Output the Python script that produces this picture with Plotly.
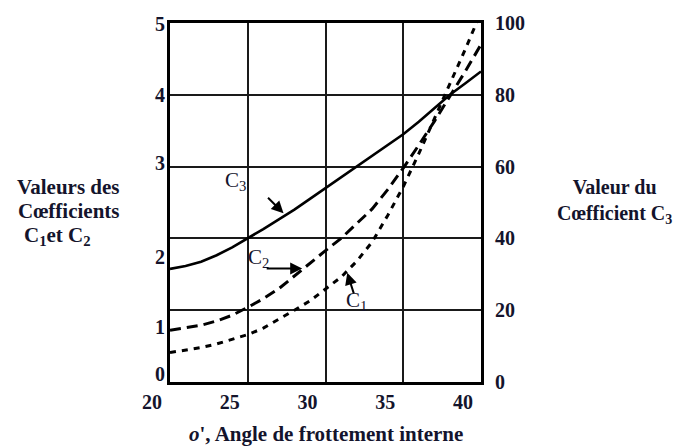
import plotly.graph_objects as go

# Friction angle (degrees)
angle = [20, 21, 22, 23, 24, 25, 26, 27, 28, 29, 30, 31, 32, 33, 34, 35, 36, 37, 38, 39, 40]

# Coefficients C1 and C2 (left axis)
c1 = [0.41, 0.44, 0.48, 0.53, 0.59, 0.66, 0.75, 0.87, 1.00, 1.13, 1.29, 1.46, 1.68, 1.95, 2.32,
      2.72, 3.18, 3.66, 4.15, 4.64, 5.15]
c2 = [0.72, 0.75, 0.79, 0.85, 0.93, 1.04, 1.16, 1.30, 1.48, 1.65, 1.83, 2.00, 2.20, 2.41, 2.68,
      2.98, 3.30, 3.63, 3.98, 4.33, 4.70]

# Coefficient C3 (right axis)
c3 = [31.5, 32.3, 33.5, 35.3, 37.5, 40.0, 42.6, 45.3, 48.0, 51.0, 54.0, 57.0, 60.0, 63.0, 66.0,
      69.0, 72.5, 76.2, 80.0, 83.2, 86.5]

x_ticks = [20, 25, 30, 35, 40]
left_ticks = [0, 1, 2, 3, 4, 5]
right_ticks = [0, 20, 40, 60, 80, 100]

INK = "#14142c"
FONT = "Liberation Serif"

fig = go.Figure()
fig.add_trace(go.Scatter(x=angle, y=c3, yaxis="y2", mode="lines",
                         line=dict(color="black", width=2.6), showlegend=False))
fig.add_trace(go.Scatter(x=angle, y=c2, mode="lines",
                         line=dict(color="black", width=3, dash="11px,6px"), showlegend=False))
fig.add_trace(go.Scatter(x=angle, y=c1, mode="lines",
                         line=dict(color="black", width=3, dash="6px,6px"), showlegend=False))

tickfont = dict(family=FONT, size=20, color=INK, weight="bold")

fig.update_layout(
    width=678, height=447,
    margin=dict(l=170, r=197, t=14, b=65),
    paper_bgcolor="white", plot_bgcolor="white",
    xaxis=dict(range=[20, 40], tickvals=x_ticks, showgrid=True, gridcolor="#1a1a1a", gridwidth=2,
               zeroline=False, showline=True, mirror=True, linecolor="black", linewidth=2.5,
               ticks="", tickfont=tickfont, ticklabelshift=-18, ticklabelstandoff=0),
    yaxis=dict(range=[0, 5], tickvals=left_ticks, showgrid=True, gridcolor="#1a1a1a", gridwidth=2,
               zeroline=False, showline=True, mirror=True, linecolor="black", linewidth=2.5,
               ticks="", showticklabels=False),
    yaxis2=dict(range=[0, 100], tickvals=right_ticks, overlaying="y", side="right",
                showgrid=False, zeroline=False, showline=False, ticks="",
                tickfont=tickfont, ticklabelstandoff=13),
)

# Left-axis labels
left_label_pos = [374, 326, 254, 158, 88, 15]
annotations = []
for v, py in zip(left_ticks, left_label_pos):
    annotations.append(dict(xref="paper", yref="paper", x=0, y=(382 - py) / 368,
                            xanchor="right", yanchor="middle", xshift=-3, showarrow=False,
                            text=str(v), font=tickfont))

def paper(px, py):
    return (px - 170) / 311, (382 - py) / 368

title_font = dict(family=FONT, size=21, color=INK, weight="bold")
for txt, px, py in [("Valeurs des", 68, 182), ("Cœfficients", 68, 207),
                    ("C<sub>1</sub>et C<sub>2</sub>", 57, 232),
                    ("<i>o</i>', Angle de frottement interne", 326, 435)]:
    xp, yp = paper(px, py)
    annotations.append(dict(xref="paper", yref="paper", x=xp, y=yp, xanchor="center",
                            yanchor="middle", showarrow=False, text=txt, font=title_font))

# Right-axis title
xp, yp = paper(614, 197)
annotations.append(dict(xref="paper", yref="paper", x=xp, y=yp, xanchor="center",
                        yanchor="middle", align="center", showarrow=False,
                        text="Valeur du<br>Cœfficient C<sub>3</sub>",
                        font=dict(family=FONT, size=20, color=INK, weight="bold")))

# Curve labels and pointers
label_font = dict(family=FONT, size=21, color=INK)
annotations += [
    dict(x=24.2, y=2.80, xref="x", yref="y", text="C<sub>3</sub>", showarrow=False, font=label_font),
    dict(x=25.7, y=1.73, xref="x", yref="y", text="C<sub>2</sub>", showarrow=False, font=label_font),
    dict(x=32.0, y=1.13, xref="x", yref="y", text="C<sub>1</sub>", showarrow=False, font=label_font),
    dict(x=27.3, y=47.0, xref="x", yref="y2", text="", showarrow=True, ax=-17, ay=-17,
         arrowhead=2, arrowsize=1.2, arrowwidth=2, arrowcolor="black"),
    dict(x=28.5, y=1.58, xref="x", yref="y", text="", showarrow=True, ax=-37, ay=0,
         arrowhead=2, arrowsize=1.2, arrowwidth=2, arrowcolor="black"),
    dict(x=31.4, y=1.52, xref="x", yref="y", text="", showarrow=True, ax=7, ay=22,
         arrowhead=2, arrowsize=1.2, arrowwidth=2, arrowcolor="black"),
]
fig.update_layout(annotations=annotations)

fig.write_html("out.html")
